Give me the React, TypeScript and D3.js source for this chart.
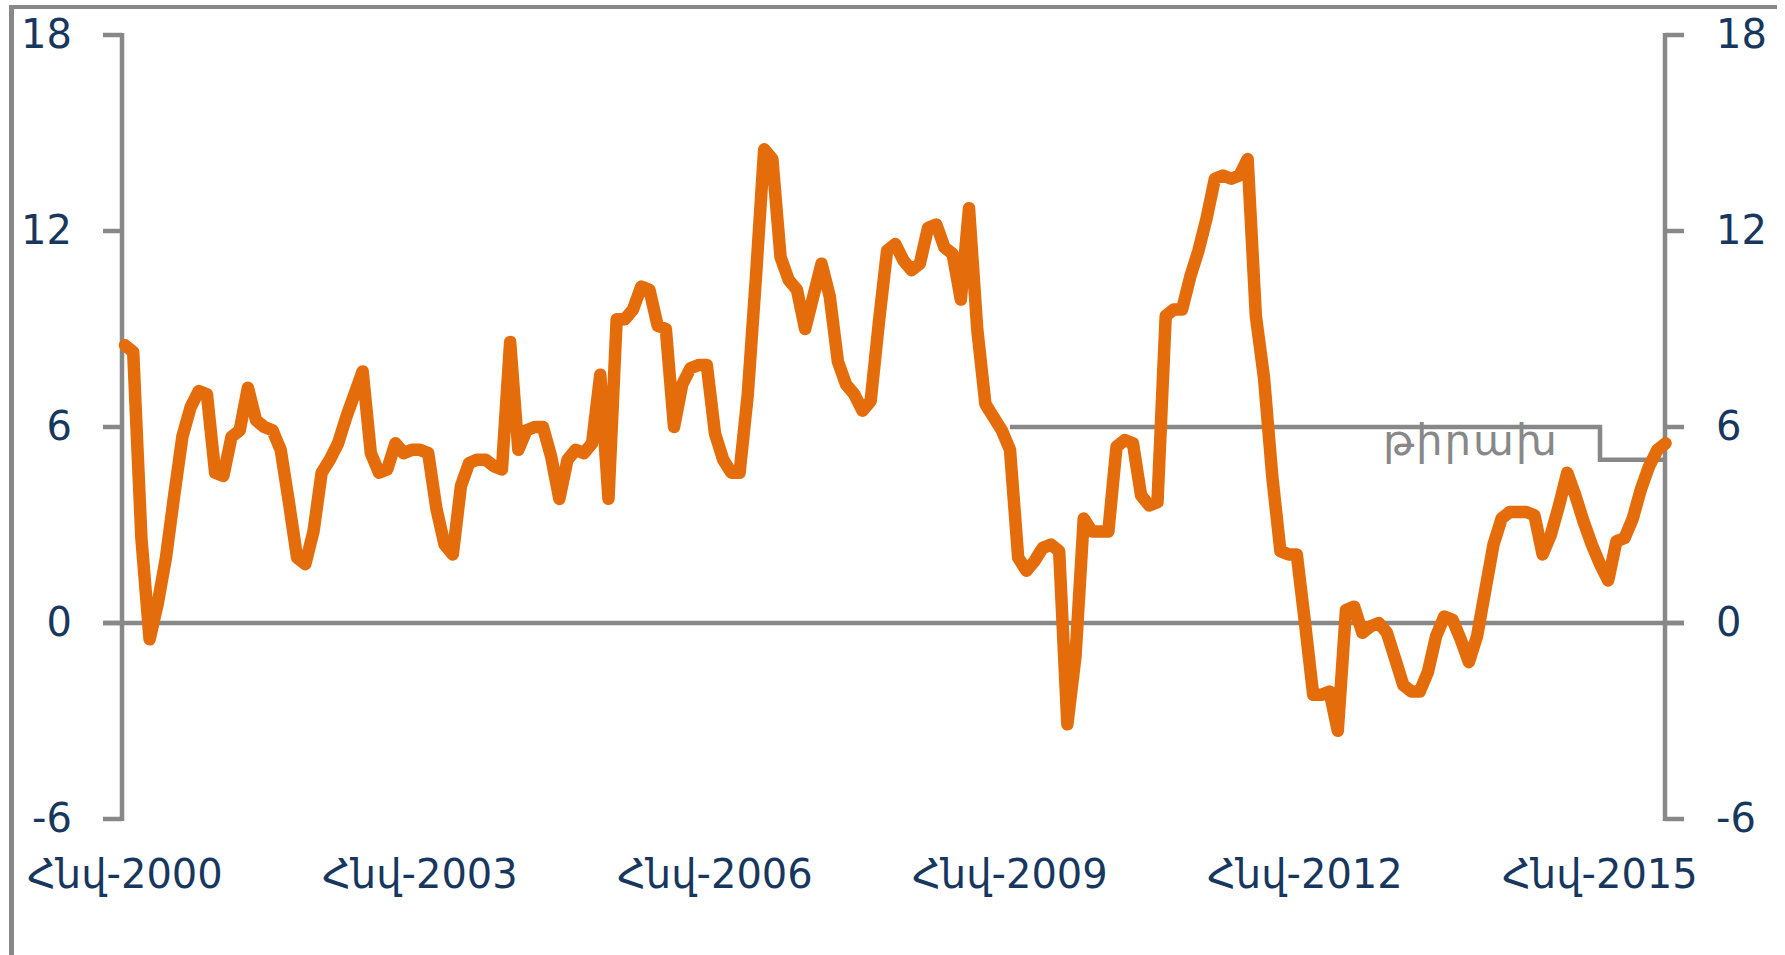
import React from 'react';
import * as d3 from 'd3';

// Monthly values, first point at the first x tick label
const values: number[] = [
  8.5, 8.3, 2.6, -0.5, 0.6, 2.0, 3.9, 5.7, 6.6, 7.1, 7.0, 4.6,
  4.5, 5.7, 5.9, 7.2, 6.2, 6.0, 5.9, 5.3, 3.7, 2.0, 1.8, 2.8,
  4.6, 5.0, 5.5, 6.3, 7.0, 7.7, 5.2, 4.6, 4.7, 5.5, 5.2, 5.3,
  5.3, 5.2, 3.5, 2.4, 2.1, 4.2, 4.9, 5.0, 5.0, 4.8, 4.7, 8.6,
  5.3, 5.9, 6.0, 6.0, 5.1, 3.8, 5.0, 5.3, 5.2, 5.5, 7.6, 3.8,
  9.3, 9.3, 9.6, 10.3, 10.2, 9.1, 9.0, 6.0, 7.3, 7.8, 7.9, 7.9,
  5.8, 5.0, 4.6, 4.6, 7.0, 10.6, 14.5, 14.2, 11.2, 10.5, 10.2, 9.0,
  10.0, 11.0, 10.0, 8.0, 7.3, 7.0, 6.5, 6.8, 9.2, 11.4, 11.6, 11.1,
  10.8, 11.0, 12.1, 12.2, 11.5, 11.3, 9.9, 12.7, 9.0, 6.7, 6.3, 5.9,
  5.3, 2.0, 1.6, 1.9, 2.3, 2.4, 2.2, -3.1, -1.0, 3.2, 2.8, 2.8,
  2.8, 5.4, 5.6, 5.5, 3.9, 3.6, 3.7, 9.4, 9.6, 9.6, 10.6, 11.4,
  12.4, 13.6, 13.7, 13.6, 13.7, 14.2, 9.4, 7.5, 4.5, 2.2, 2.1, 2.1,
  0.0, -2.2, -2.2, -2.1, -3.3, 0.4, 0.5, -0.3, -0.1, 0.0, -0.3, -1.1,
  -1.9, -2.1, -2.1, -1.5, -0.4, 0.2, 0.1, -0.5, -1.2, -0.4, 1.0, 2.4,
  3.2, 3.4, 3.4, 3.4, 3.3, 2.1, 2.7, 3.6, 4.6, 3.9, 3.1, 2.4,
  1.8, 1.3, 2.5, 2.6, 3.2, 4.1, 4.8, 5.3, 5.5,
];

const yTicks: number[] = [18, 12, 6, 0, -6];
const yTickLabels: string[] = ['18', '12', '6', '0', '-6'];
const xTickIdx: number[] = [0, 36, 72, 108, 144, 180];
const xTickLabels: string[] = ['Հնվ-2000', 'Հնվ-2003', 'Հնվ-2006', 'Հնվ-2009', 'Հնվ-2012', 'Հնվ-2015'];
const targetIdx: number[] = [108, 180, 188];
const targetVals: number[] = [6, 5, 5];
const targetLabel = 'թիրախ';

const W = 1785;
const H = 955;
const GRAY = '#888888';
const NAVY = '#17375e';
const ORANGE = '#e46c0a';
const FONT = '"DejaVu Sans", "Liberation Sans", Arial, sans-serif';

export default function App() {
  const x = d3.scaleLinear().domain([0, 180]).range([125, 1600]);
  const y = d3.scaleLinear().domain([-6, 18]).range([819, 35]);

  const axisL = 122;
  const axisR = 1665;
  const tickLen = 19;

  const linePath = d3
    .line<number>()
    .x((_, i) => x(i))
    .y((d) => y(d))(values) as string;

  const targetPts: [number, number][] = targetIdx.map((t, i) => [t, targetVals[i]]);
  const targetPath = d3
    .line<[number, number]>()
    .x((d) => x(d[0]))
    .y((d) => y(d[1]))
    .curve(d3.curveStepAfter)(targetPts) as string;

  return (
    <svg
      width={W}
      height={H}
      viewBox={`0 0 ${W} ${H}`}
      style={{ position: 'absolute', left: 0, top: 0, background: '#fff' }}
    >
      <rect x={0} y={0} width={W} height={H} fill="#fff" />
      {/* outer frame (top and left) */}
      <line x1={9} x2={1777} y1={7} y2={7} stroke={GRAY} strokeWidth={4} />
      <line x1={11.5} x2={11.5} y1={5} y2={H} stroke={GRAY} strokeWidth={5} />

      {/* axes */}
      <line x1={axisL} x2={axisL} y1={y(18) - 2} y2={y(-6) + 2} stroke={GRAY} strokeWidth={4.5} />
      <line x1={axisR} x2={axisR} y1={y(18) - 2} y2={y(-6) + 2} stroke={GRAY} strokeWidth={4.5} />
      {yTicks.map((t) => (
        <g key={'t' + t}>
          <line x1={axisL - tickLen} x2={axisL} y1={y(t)} y2={y(t)} stroke={GRAY} strokeWidth={4.5} />
          <line x1={axisR} x2={axisR + tickLen} y1={y(t)} y2={y(t)} stroke={GRAY} strokeWidth={4.5} />
        </g>
      ))}
      {/* zero line */}
      <line x1={axisL - tickLen} x2={axisR + tickLen} y1={y(0)} y2={y(0)} stroke={GRAY} strokeWidth={4.5} />

      {/* target */}
      <path d={targetPath} fill="none" stroke={GRAY} strokeWidth={4.5} />
      <text
        x={1383}
        y={455}
        fontFamily={FONT}
        fontSize={42}
        fill={GRAY}
        textLength={174}
        lengthAdjust="spacing"
      >
        {targetLabel}
      </text>

      {/* series */}
      <path
        d={linePath}
        fill="none"
        stroke={ORANGE}
        strokeWidth={12.5}
        strokeLinejoin="round"
        strokeLinecap="round"
      />

      {/* y labels */}
      {yTicks.map((t, i) => (
        <g key={'l' + t}>
          <text
            x={72}
            y={y(t) + 13}
            textAnchor="end"
            fontFamily={FONT}
            fontSize={40}
            fill={NAVY}
          >
            {yTickLabels[i]}
          </text>
          <text x={1716} y={y(t) + 13} textAnchor="start" fontFamily={FONT} fontSize={40} fill={NAVY}>
            {yTickLabels[i]}
          </text>
        </g>
      ))}

      {/* x labels */}
      {xTickIdx.map((t, i) => (
        <text
          key={'x' + t}
          x={x(t)}
          y={888}
          textAnchor="middle"
          fontFamily={FONT}
          fontSize={40}
          fill={NAVY}
        >
          {xTickLabels[i]}
        </text>
      ))}
    </svg>
  );
}
